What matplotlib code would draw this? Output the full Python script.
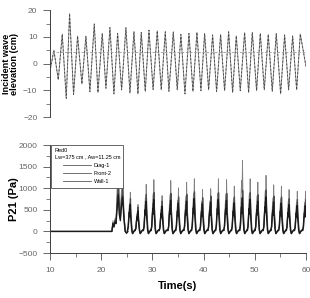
import matplotlib
matplotlib.use("Agg")
from matplotlib import pyplot as plt
from matplotlib.ticker import MultipleLocator

# incident wave: peaks and troughs
wave_t = [10.0, 10.78, 11.63, 12.41, 13.19, 13.84, 14.62, 15.40, 16.25, 17.03,
          17.81, 18.66, 19.38, 20.22, 20.94, 21.72, 22.5, 23.22, 24.0, 24.84,
          25.63, 26.41, 27.19, 27.84, 28.62, 29.34, 30.15, 30.96, 31.74, 32.53,
          33.24, 34.09, 34.87, 35.58, 36.37, 37.15, 37.93, 38.71, 39.49, 40.21,
          40.99, 41.77, 42.55, 43.33, 44.11, 44.9, 45.68, 46.39, 47.17, 48.02,
          48.8, 49.52, 50.36, 51.08, 51.86, 52.64, 53.42, 54.2, 55.05, 55.83,
          56.61, 57.4, 58.18, 58.89, 60.0]
wave_eta = [-3, 5, -6, 11, -13, 18.7, -11.5, 10.3, -7.6, 10.3,
            -10.5, 14.8, -10.8, 11.3, -9.2, 13.5, -11.3, 11.3, -9.8, 13.5,
            -11, 12, -11.3, 11.7, -10.4, 12.5, -9.7, 12.3, -9.8, 11.9,
            -10.4, 11.9, -9.8, 10.9, -11.3, 11.3, -10.4, 11.7, -10.1, 11.3,
            -9.8, 10.7, -10.4, 10.9, -10.1, 11.9, -10.8, 10.4, -10.1, 11.6,
            -10.8, 11.7, -10.1, 11.3, -9.8, 10.9, -10.4, 11.3, -11.3, 10.7,
            -9.8, 10.3, -9.8, 11.1, -1]
still_t = [10.5, 60]
still_eta = [4.5, 4.5]

# pressure P21: first impacts typed point by point
early_t = [10, 22.1, 22.3, 22.5, 22.7, 22.9, 23.1, 23.35, 23.55, 23.75, 23.95, 24.2, 24.45, 24.7, 24.95, 25.2]
diag_early = [0, 0, 250, 150, 300, 250, 900, 1950, 700, 400, 900, 1550, 500, 20, -40, 0]
front_early = [0, 0, 200, 120, 250, 200, 600, 1200, 500, 300, 700, 1000, 350, 10, -50, -10]
wall_early = [0, 0, 180, 100, 220, 180, 500, 850, 400, 250, 550, 800, 300, 0, -30, 0]

# later impacts: peak time and peak pressure of each
spike_t = [25.7, 27.2, 28.8, 30.3, 31.9, 33.6, 35.1, 36.7, 38.2, 39.8, 41.4, 42.9,
           44.5, 46.0, 47.6, 49.1, 50.6, 52.2, 53.7, 55.2, 56.7, 58.3, 59.9]
diag_peak = [910, 625, 1090, 1200, 830, 1180, 1010, 1140, 1220, 970, 990, 1220,
             1200, 1050, 1650, 1220, 1140, 1300, 1080, 1050, 970, 930, 930]
front_peak = [760, 560, 860, 900, 700, 880, 800, 860, 920, 780, 820, 900,
              880, 800, 950, 900, 850, 960, 820, 800, 760, 740, 740]
wall_peak = [620, 470, 700, 740, 580, 720, 660, 700, 760, 640, 680, 740,
             720, 660, 780, 740, 700, 800, 680, 660, 620, 600, 600]

# shape of one impact (offset in s, fraction of peak) and baseline wiggle (Pa)
shape_dt = [-0.55, -0.4, -0.28, -0.16, -0.08, 0.0, 0.08, 0.2, 0.3, 0.45, 0.7, 0.9]
shape_frac = [0.0, 0.15, 0.5, 0.72, 0.55, 1.0, 0.6, 0.3, 0.05, 0.0, 0.0, 0.0]
shape_base = [20, 0, 0, 0, 0, 0, 0, 0, 0, -50, 0, 30]


def trace(early_p, peaks, shift):
    t = list(early_t)
    p = list(early_p)
    for tp, pk in zip(spike_t, peaks):
        for dt, fr, b in zip(shape_dt, shape_frac, shape_base):
            tt = tp + dt + shift
            if tt <= 60:
                t.append(tt)
                p.append(fr * pk + b)
    return t, p


plt.rcParams["font.family"] = ["Liberation Sans", "DejaVu Sans"]

fig = plt.figure(figsize=(3.1, 2.98), dpi=100)
ax1 = fig.add_axes([0.161, 0.607, 0.826, 0.359])
ax2 = fig.add_axes([0.161, 0.151, 0.826, 0.362])

tick_family = ["Liberation Sans Narrow", "DejaVu Sans Condensed", "Liberation Sans"]

# top panel
ax1.plot(wave_t, wave_eta, color="0.55", lw=0.7)
ax1.plot(wave_t, wave_eta, color="0.25", lw=0.6, ls=(0, (2, 2.5)))
ax1.plot(still_t, still_eta, color="0.6", lw=0.6, ls=(0, (3, 2)))
ax1.set_xlim(10, 60)
ax1.set_ylim(-20, 20)
for s in ["top", "right", "bottom"]:
    ax1.spines[s].set_visible(False)
ax1.set_xticks([])
ax1.yaxis.set_major_locator(MultipleLocator(10))
ax1.yaxis.set_minor_locator(MultipleLocator(5))
ax1.set_ylabel("Incident wave\nelevation (cm)", fontsize=6.6, fontweight="bold",
               linespacing=0.9)
ax1.yaxis.set_label_coords(-0.12, 0.5)

# bottom panel
labels = ["Diag-1", "Front-2", "Wall-1"]
colors = ["0.5", "0.3", "0.1"]
widths = [0.6, 0.9, 1.0]
for lab, early_p, peaks, c, w, sh in zip(labels, [diag_early, front_early, wall_early],
                                          [diag_peak, front_peak, wall_peak], colors, widths,
                                          [0.0, 0.03, -0.03]):
    t, p = trace(early_p, peaks, sh)
    ax2.plot(t, p, color=c, lw=w, label=lab)
ax2.set_xlim(10, 60)
ax2.set_ylim(-500, 2000)
for s in ["top", "right"]:
    ax2.spines[s].set_visible(False)
ax2.xaxis.set_major_locator(MultipleLocator(10))
ax2.xaxis.set_minor_locator(MultipleLocator(5))
ax2.yaxis.set_major_locator(MultipleLocator(500))
ax2.yaxis.set_minor_locator(MultipleLocator(250))
ax2.set_ylabel("P21 (Pa)", fontsize=8, fontweight="bold")
ax2.yaxis.set_label_coords(-0.12, 0.5)
ax2.set_xlabel("Time(s)", fontsize=8, fontweight="bold", labelpad=5)

leg = ax2.legend(loc="upper left", bbox_to_anchor=(0.005, 1.0), fontsize=4,
                 title="Red0\nLw=375 cm , Aw=11.25 cm", title_fontsize=4,
                 frameon=True, fancybox=False, borderpad=0.6, handlelength=5,
                 labelspacing=0.6, handletextpad=0.5, borderaxespad=0)
leg.get_frame().set_edgecolor("0.3")
leg.get_frame().set_linewidth(0.6)
leg.get_frame().set_alpha(1)
for h in leg.get_lines():
    h.set_linewidth(0.6)
    h.set_color("0.35")

for ax in (ax1, ax2):
    for s in ax.spines.values():
        s.set_color("0.25")
        s.set_linewidth(0.7)
    ax.tick_params(which="major", direction="out", length=5, width=0.6, color="0.3",
                   labelcolor="0.4", pad=4)
    ax.tick_params(which="minor", direction="out", length=3, width=0.5, color="0.3")
    for lab in ax.get_xticklabels() + ax.get_yticklabels():
        lab.set_fontfamily(tick_family)
        lab.set_fontsize(6)
ax2.tick_params(axis="x", which="major", pad=5)

fig.savefig("out.png", dpi=100)
